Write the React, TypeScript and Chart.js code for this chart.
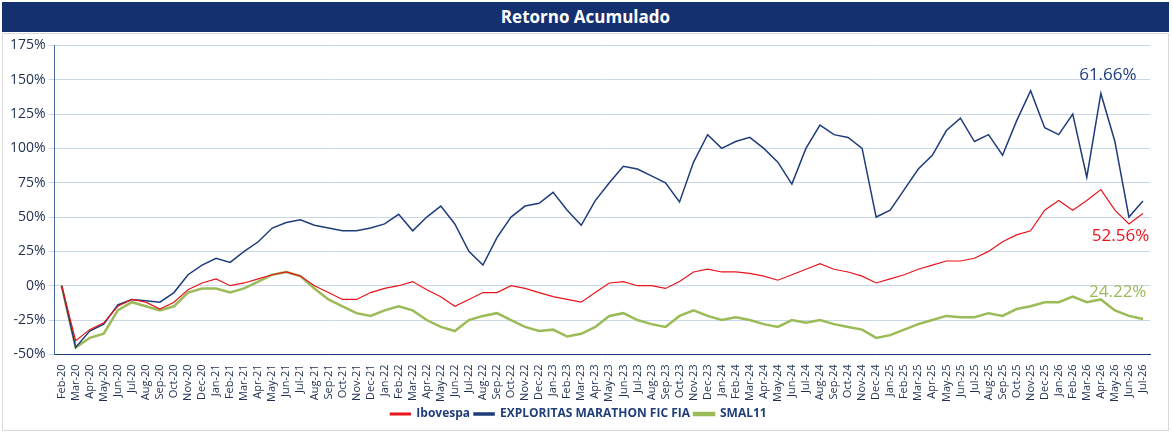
import React, { useEffect, useRef } from "react";
import { Chart, registerables } from "chart.js";
Chart.register(...registerables);

const months = ["Jan","Feb","Mar","Apr","May","Jun","Jul","Aug","Sep","Oct","Nov","Dec"];
const labels: string[] = [];
for (let y = 20; y <= 26; y++) for (let m = 0; m < 12; m++) {
  if (y === 20 && m < 1) continue;
  if (y === 26 && m > 6) continue;
  labels.push(months[m] + "-" + y);
}

const explorer = [0,-45,-33,-28,-14,-10,-11,-12,-5,8,15,20,17,25,32,42,46,48,44,42,40,40,42,45,52,40,50,58,45,25,15,35,50,58,60,68,55,44,62,75,87,85,80,75,61,90,110,100,105,108,100,90,74,100,117,110,108,100,50,55,70,85,95,113,122,105,110,95,120,142,115,110,125,79,140,105,50,61.66];
const ibovespa = [0,-40,-32,-27,-15,-10,-12,-17,-12,-3,2,5,0,2,5,8,10,7,0,-5,-10,-10,-5,-2,0,3,-3,-8,-15,-10,-5,-5,0,-2,-5,-8,-10,-12,-5,2,3,0,0,-2,3,10,12,10,10,9,7,4,8,12,16,12,10,7,2,5,8,12,15,18,18,20,25,32,37,40,55,62,55,62,70,55,45,52.56];
const smal11 = [0,-45,-38,-35,-18,-12,-15,-18,-15,-5,-2,-2,-5,-2,3,8,10,7,-2,-10,-15,-20,-22,-18,-15,-18,-25,-30,-33,-25,-22,-20,-25,-30,-33,-32,-37,-35,-30,-22,-20,-25,-28,-30,-22,-18,-22,-25,-23,-25,-28,-30,-25,-27,-25,-28,-30,-32,-38,-36,-32,-28,-25,-22,-23,-23,-20,-22,-17,-15,-12,-12,-8,-12,-10,-18,-22,-24.22];

const endLabels = {
  id: "endLabels",
  afterDatasetsDraw(chart: any) {
    const { ctx } = chart;
    const xs = chart.scales.x, ys = chart.scales.y;
    const n = labels.length - 1;
    const items = [
      { text: "61.66%", color: "#1f3d7a", x: n - 2.5, y: 153 },
      { text: "52.56%", color: "#e8141c", x: n - 1.6, y: 36 },
      { text: "24.22%", color: "#9bbb59", x: n - 1.8, y: -5 },
    ];
    ctx.save();
    ctx.font = "17px 'Open Sans', sans-serif";
    ctx.textAlign = "center";
    ctx.textBaseline = "middle";
    for (const it of items) {
      ctx.fillStyle = it.color;
      ctx.fillText(it.text, xs.getPixelForValue(it.x), ys.getPixelForValue(it.y));
    }
    ctx.restore();
  },
};

export default function App() {
  const ref = useRef<HTMLCanvasElement>(null);
  useEffect(() => {
    document.body.style.margin = "0";
    const c = new Chart(ref.current!, {
      type: "line",
      data: {
        labels,
        datasets: [
          { label: "Ibovespa", data: ibovespa, borderColor: "#e8141c", backgroundColor: "#e8141c", borderWidth: 1.2, pointRadius: 0, tension: 0 },
          { label: "EXPLORITAS MARATHON FIC FIA", data: explorer, borderColor: "#1f3d7a", backgroundColor: "#1f3d7a", borderWidth: 1.5, pointRadius: 0, tension: 0 },
          { label: "SMAL11", data: smal11, borderColor: "#9bbb59", backgroundColor: "#9bbb59", borderWidth: 2.5, pointRadius: 0, tension: 0 },
        ],
      },
      options: {
        animation: false,
        responsive: false,
        layout: { padding: { left: 4, right: 18, top: 6, bottom: 0 } },
        plugins: {
          legend: {
            position: "bottom",
            labels: { boxWidth: 20, boxHeight: 2, color: "#1f3d7a", font: { size: 12, weight: "bold", family: "'Open Sans', sans-serif" }, padding: 4 },
          },
          tooltip: { enabled: false },
        },
        scales: {
          x: {
            offset: true,
            grid: { display: false },
            border: { color: "#1f3d7a" },
            ticks: { autoSkip: false, maxRotation: 90, minRotation: 90, color: "#1f2f4f", font: { size: 11, family: "'Open Sans', sans-serif" }, padding: 2 },
          },
          y: {
            min: -50, max: 175,
            grid: { color: "#c8d8e8", tickLength: 6 },
            border: { color: "#4a6a9a" },
            ticks: { stepSize: 25, color: "#1f2f4f", font: { size: 14, family: "'Open Sans', sans-serif" }, callback: (v: any) => v + "%" },
          },
        },
      },
      plugins: [endLabels],
    } as any);
    return () => c.destroy();
  }, []);
  return (
    <div style={{ width: 1173, height: 435, position: "relative", background: "#fff", fontFamily: "'Open Sans', sans-serif" }}>
      <div style={{ position: "absolute", left: 2, top: 2, width: 1167, height: 30, background: "#14306f", color: "#fff", fontWeight: "bold", fontSize: 17, textAlign: "center", lineHeight: "30px" }}>Retorno Acumulado</div>
      <div style={{ position: "absolute", left: 2, top: 33, width: 1167, height: 398, border: "1px solid #d8d8d8", boxSizing: "border-box" }}>
        <canvas ref={ref} width={1165} height={396} style={{ display: "block" }} />
      </div>
    </div>
  );
}
